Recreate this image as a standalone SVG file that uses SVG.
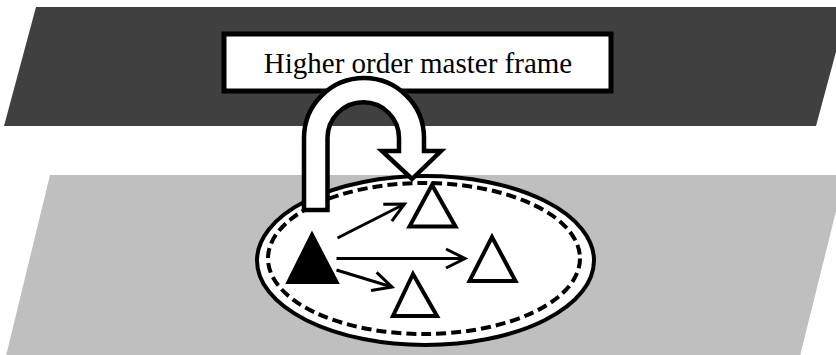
<svg xmlns="http://www.w3.org/2000/svg" width="836" height="355" viewBox="0 0 836 355">
  <style>
    .tri { fill: #ffffff; stroke: #000000; stroke-width: 4; stroke-linejoin: miter; }
    .tri-solid { fill: #000000; stroke: #000000; stroke-width: 4; stroke-linejoin: miter; }
    .conn { fill: none; stroke: #000000; stroke-width: 3; }
    .label { font-family: "Liberation Serif", "Times New Roman", serif; font-size: 29px; fill: #000000; }
  </style>
  <defs>
    <marker id="openHead" markerUnits="userSpaceOnUse" markerWidth="30" markerHeight="30" viewBox="-25 -15 30 30" refX="0" refY="0" orient="auto" overflow="visible">
      <path d="M-19,-9.5 L0,0 L-19,9.5" fill="none" stroke="#000000" stroke-width="3" stroke-linejoin="miter"/>
    </marker>
  </defs>

  <rect x="0" y="0" width="836" height="355" fill="#ffffff"/>

  <g id="higher-plane">
    <polygon points="36,7 848,7 816,126 4,126" fill="#404040"/>
  </g>
  <g id="lower-plane">
    <polygon points="50,175 845,175 800,356 6,356" fill="#bfbfbf"/>
  </g>

  <g id="master-frame-label">
    <rect x="224" y="34" width="387" height="57" fill="#ffffff" stroke="#000000" stroke-width="5"/>
    <text class="label" x="418" y="73" text-anchor="middle">Higher order master frame</text>
  </g>

  <g id="frame-ellipse">
    <ellipse cx="425.5" cy="260.5" rx="168.5" ry="84.5" fill="#ffffff" stroke="#000000" stroke-width="4"/>
    <ellipse cx="424" cy="258.5" rx="156" ry="75.5" fill="none" stroke="#000000" stroke-width="4" stroke-dasharray="10 5"/>
  </g>

  <g id="master-node">
    <polygon class="tri-solid" points="312,235 288.5,282 336.5,282"/>
  </g>
  <g id="node-top">
    <polygon class="tri" points="432,185 409.5,226.5 455.5,226.5"/>
  </g>
  <g id="node-right">
    <polygon class="tri" points="492,237 469.5,281 515.5,281"/>
  </g>
  <g id="node-bottom">
    <polygon class="tri" points="413,274 393,316 437,316"/>
  </g>

  <g id="connectors">
    <line class="conn" x1="337.5" y1="238" x2="404.5" y2="204" marker-end="url(#openHead)"/>
    <line class="conn" x1="336.5" y1="258.5" x2="465" y2="258.5" marker-end="url(#openHead)"/>
    <line class="conn" x1="336.5" y1="270" x2="392" y2="287" marker-end="url(#openHead)"/>
    <path id="uturn-arrow" d="M304,210 L304,138 A60,60 0 0 1 424,138 L424,151 L441,151 L412,179 L382,151 L399,151 L399,138 A35.75,35.75 0 0 0 327.5,138 L327.5,210 Z" fill="#ffffff" stroke="#000000" stroke-width="4.5" stroke-linejoin="miter"/>
  </g>
</svg>
